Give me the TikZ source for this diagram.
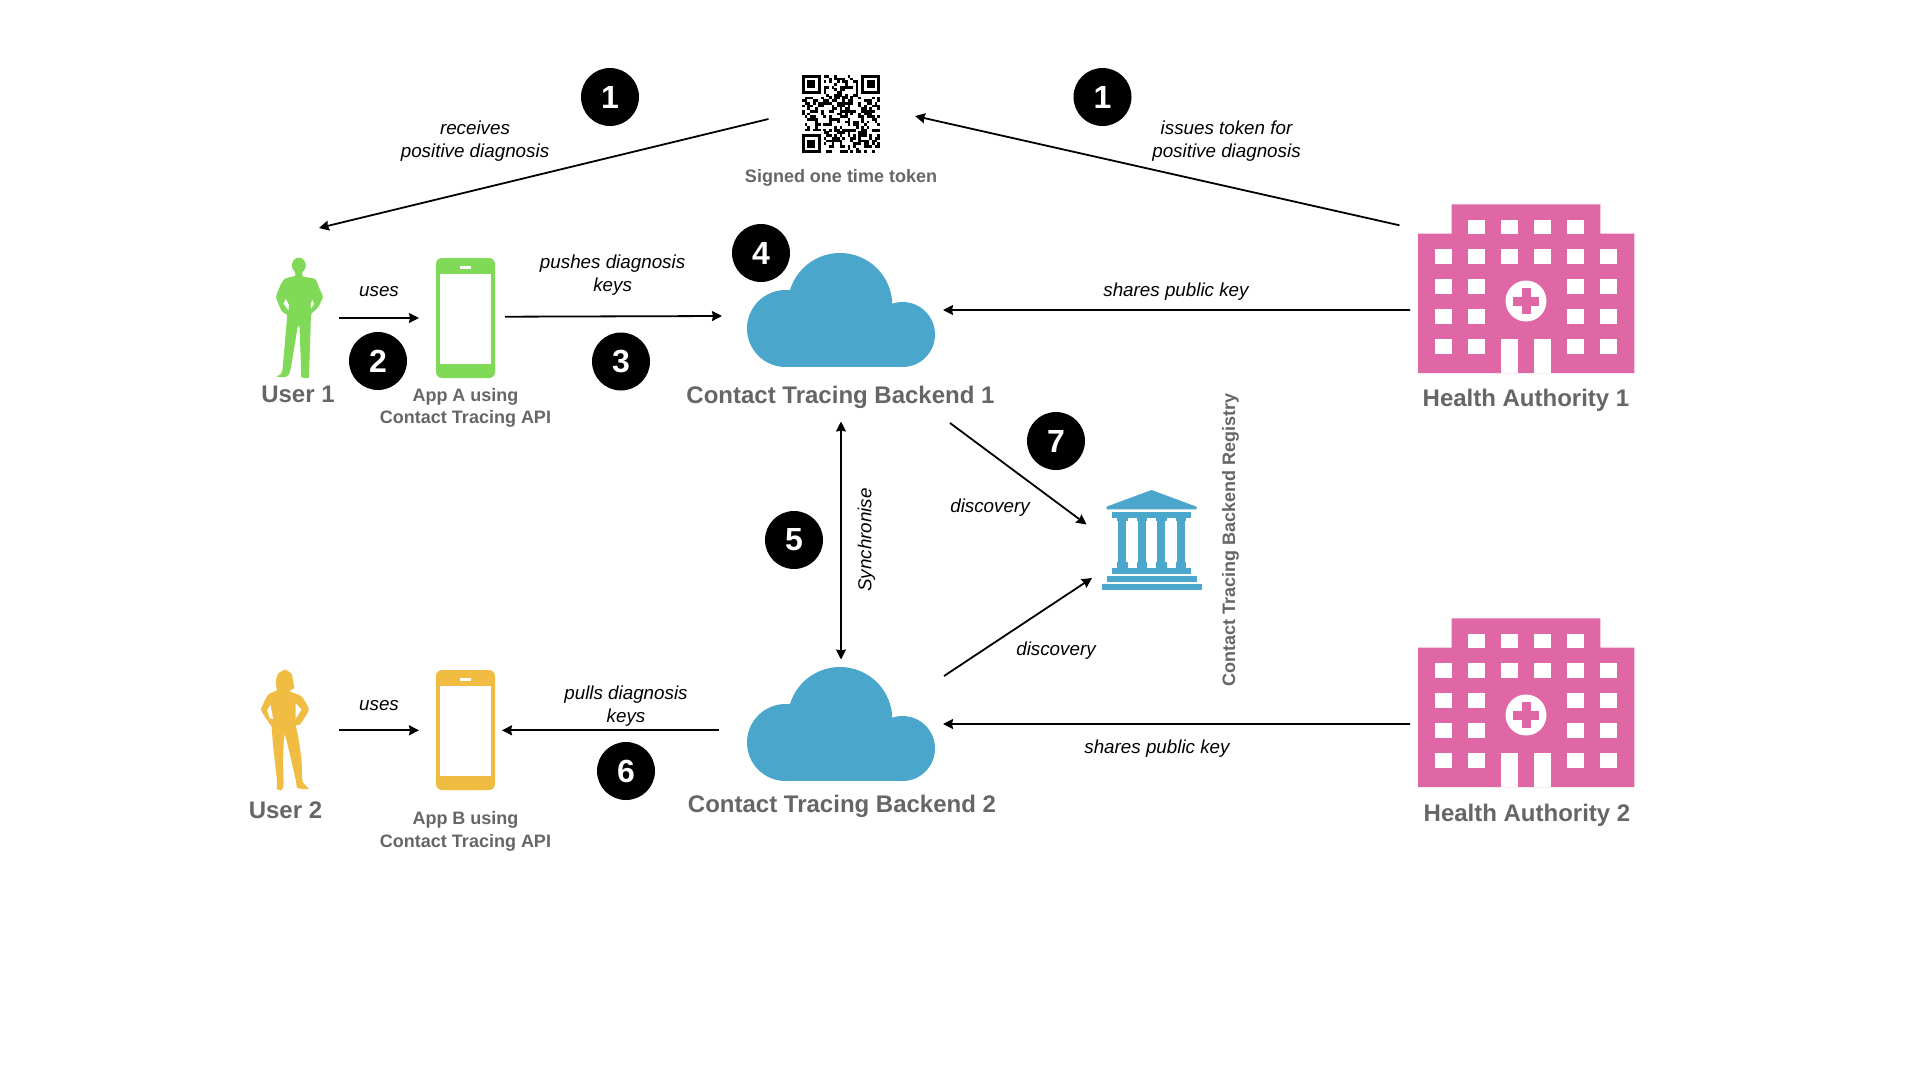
\documentclass[tikz,border=0pt]{standalone}
\usepackage{fontspec}
\setmainfont{Liberation Sans}
\usetikzlibrary{arrows.meta}

\definecolor{textgrey}{HTML}{666666}
\definecolor{usergreen}{HTML}{80D957}
\definecolor{useryellow}{HTML}{F0BD42}
\definecolor{cloudblue}{HTML}{4AA6CB}
\definecolor{hospitalpink}{HTML}{DF67A6}

\tikzset{
    pics/phonepic/.style={code={
        \fill[#1, rounded corners=6] (-29.5,-60) rectangle (29.5,60);
        \fill[white] (-25.5,-44) rectangle (25.2,46);
        \fill[white] (-5.5,-52) rectangle (5.8,-49.3);
    }},
    pics/cloudpic/.style={code={
        \fill[cloudblue] (-55.5,18.5) circle (38.5);
        \fill[cloudblue] (-1,-4.7) circle (52.3);
        \fill[cloudblue] (61.5,24.5) circle (32.5);
        \fill[cloudblue] (-55.5,0) rectangle (61.5,57);
    }},
    pics/hospitalpic/.style={code={
        \fill[hospitalpink] (33.7,0) -- (182.3,0) -- (182.3,29.4) -- (216.3,29.4) -- (216.3,168.7)
            -- (0,168.7) -- (0,29.4) -- (33.7,29.4) -- cycle;
        \foreach \col in {50,83,116,149} \fill[white] (\col,15.4) rectangle ++(16.5,14.7);
        \foreach \col in {17,50,83,116,149,182} \fill[white] (\col,45) rectangle ++(16.5,14.7);
        \foreach \row in {75,105,135}
            \foreach \col in {17,50,149,182} \fill[white] (\col,\row) rectangle ++(16.5,14.7);
        \foreach \col in {83,116} \fill[white] (\col,135) rectangle (\col+16.5,168.7);
        \fill[white] (108,96.7) circle (20.5);
        \fill[hospitalpink] (103.5,83.9) rectangle (112.5,109.5);
        \fill[hospitalpink] (95.2,92.2) rectangle (120.8,101.2);
    }},
    pics/bankpic/.style={code={
        \fill[cloudblue] (0,-50) -- (45,-33.3) -- (45,-30.7) -- (-45,-30.7) -- (-45,-33.3) -- cycle;
        \fill[cloudblue] (-39.3,-28.3) rectangle (39.3,-22.3);
        \foreach \col in {-29.2,-9.8,9.8,29.5} {
            \fill[cloudblue] (\col-3.9,-22.3) rectangle (\col+3.9,27.7);
            \fill[cloudblue] (\col-5.2,-22.3) rectangle (\col+5.2,-19);
            \fill[cloudblue] (\col-5.2,22.4) rectangle (\col+5.2,27.7);
        }
        \fill[cloudblue] (-39.3,27.7) rectangle (39.3,33.7);
        \fill[cloudblue] (-45,35.7) rectangle (45,41.7);
        \fill[cloudblue] (-50,43.7) rectangle (50,50);
    }},
    pics/qrpic/.style={code={
        \pgfmathsetseed{41}
        \foreach \i in {0,...,28}
            \foreach \j in {0,...,28} {
                \pgfmathrandominteger{\cellbit}{0}{1}
                \ifnum\cellbit=1
                    \fill[black] (\i*2.69-0.05,\j*2.69-0.05) rectangle ++(2.79,2.79);
                \fi
            }
        \foreach \fx/\fy in {0/0,22/0,0/22} {
            \fill[white] (\fx*2.69-2.69,\fy*2.69-2.69) rectangle ++(24.2,24.2);
            \fill[black] (\fx*2.69,\fy*2.69) rectangle ++(18.8,18.8);
            \fill[white] (\fx*2.69+2.69,\fy*2.69+2.69) rectangle ++(13.45,13.45);
            \fill[black] (\fx*2.69+5.38,\fy*2.69+5.38) rectangle ++(8.07,8.07);
        }
    }},
    pics/manpic/.style={code={
        \begin{scope}[scale=1/3,shift={(-178,-235)}]
            \fill[usergreen] (176,77) ellipse (21 and 23);
            \fill[usergreen] plot[smooth cycle,tension=0.3] coordinates {
                (186,92) (188,110) (225,118) (235,140) (248,172)
                (232,205) (214,222) (212,240) (210,300) (207,395) (206,414) (184,413) (183,395)
                (178,265) (172,265) (150,395) (136,412) (108,410) (126,395) (140,240) (140,225)
                (125,215) (108,172) (124,130) (136,116) (165,108) (164,92)};
            \fill[white] (137,178) -- (130,192) -- (145,212) -- (146,195) -- cycle;
            \fill[white] (216,180) -- (222,192) -- (212,208) -- (212,195) -- cycle;
        \end{scope}
    }},
    pics/womanpic/.style={code={
        \begin{scope}[scale=1/3,shift={(-135.5,-211)}]
            \fill[useryellow] plot[smooth cycle,tension=0.3] coordinates {
                (135,30) (155,42) (160,65) (163,85) (150,95) (185,110) (207,150) (180,195)
                (168,197) (175,230) (185,300) (188,365) (207,388) (172,385) (168,362) (135,225)
                (130,300) (131,375) (125,392) (110,387) (112,368) (100,260) (95,200) (88,190)
                (64,150) (85,105) (110,92) (108,65) (115,42)};
            \fill[white] (92,135) -- (82,152) -- (90,176) -- (100,178) -- cycle;
            \fill[white] (167,130) -- (185,150) -- (167,178) -- cycle;
        \end{scope}
    }},
}

\begin{document}
\begin{tikzpicture}[x=1pt,y=-1pt]
            \tikzstyle{iconbox} = [rectangle, inner sep=0, outer sep=0]
            \tikzstyle{stepnum} = [circle, fill=black, text=white, inner sep=0, minimum size=58, font=\fontsize{32}{32}\selectfont\bfseries]
            \tikzstyle{title} = [text=textgrey, font=\fontsize{24}{28}\selectfont\bfseries]
            \tikzstyle{caption} = [text=textgrey, align=center, font=\fontsize{18}{22.7}\selectfont\bfseries]
            \tikzstyle{flowtext} = [align=center, font=\fontsize{18.8}{22.7}\selectfont\itshape]
            \tikzstyle{flow} = [line width=1.8, -{Stealth[length=10,width=10,inset=1]}]

            \path[use as bounding box, fill=white] (0,0) rectangle (1920,1080);

            % icons
            \node[iconbox, minimum width=78, minimum height=78] (qrcode) at (841,114) {};
            \node[iconbox, minimum width=47, minimum height=120] (user1) at (299.5,318) {};
            \node[iconbox, minimum width=48, minimum height=120] (user2) at (285,730) {};
            \node[iconbox, minimum width=59, minimum height=120] (phone1) at (465.5,318) {};
            \node[iconbox, minimum width=59, minimum height=120] (phone2) at (465.5,730) {};
            \node[iconbox, minimum width=188, minimum height=114] (cloud1) at (841,310) {};
            \node[iconbox, minimum width=188, minimum height=114] (cloud2) at (841,724) {};
            \node[iconbox, minimum width=216.3, minimum height=168.7] (hospital1) at (1526.15,288.65) {};
            \node[iconbox, minimum width=216.3, minimum height=168.7] (hospital2) at (1526.15,702.65) {};
            \node[iconbox, minimum width=100, minimum height=100] (registry) at (1151.5,540) {};

            \pic at (qrcode.north west) {qrpic};
            \pic at (user1) {manpic};
            \pic at (user2) {womanpic};
            \pic at (phone1) {phonepic=usergreen};
            \pic at (phone2) {phonepic=useryellow};
            \pic at (cloud1) {cloudpic};
            \pic at (cloud2) {cloudpic};
            \pic at (hospital1.north west) {hospitalpic};
            \pic at (hospital2.north west) {hospitalpic};
            \pic at (registry) {bankpic};

            % captions
            \node[caption] (tokentext) at (841,178) {Signed one time token};
            \node[title] (user1text) at (298,394.5) {User 1};
            \node[title] (user2text) at (285.5,810) {User 2};
            \node[caption] (app1text) at (465.5,408) {App A using\\Contact Tracing API};
            \node[caption] (app2text) at (465.5,831.5) {App B using\\Contact Tracing API};
            \node[title] (cloud1text) at (840.5,397) {Contact Tracing Backend 1};
            \node[title] (cloud2text) at (842,806.5) {Contact Tracing Backend 2};
            \node[title] (hospital1text) at (1526,400.5) {Health Authority 1};
            \node[title] (hospital2text) at (1527,815) {Health Authority 2};
            \node[caption, rotate=90] (registrytext) at (1230.5,540) {Contact Tracing Backend Registry};

            % messages
            \draw[flow] ([shift={(-33.5,5)}]qrcode.west) -- ([shift={(-4,-30)}]user1.north east);
            \draw[flow] ([shift={(-18.5,21)}]hospital1.north west) -- ([shift={(35,2)}]qrcode.east);
            \draw[flow] ([shift={(16,0)}]user1.east) -- ([shift={(-17,0)}]phone1.west);
            \draw[flow] ([shift={(10,-1.3)}]phone1.east) -- ([shift={(-25,6)}]cloud1.west);
            \draw[flow] ([shift={(-8,21.4)}]hospital1.west) -- ([shift={(8,0)}]cloud1.east);
            \draw[flow] ([shift={(-8,21.4)}]hospital2.west) -- ([shift={(8,0)}]cloud2.east);
            \draw[flow, {Stealth[length=10,width=10,inset=1]}-{Stealth[length=10,width=10,inset=1]}] ([shift={(0,54.5)}]cloud1.south) -- ([shift={(0,-7.5)}]cloud2.north);
            \draw[flow] ([shift={(15,56)}]cloud1.south east) -- ([shift={(-15,-15.5)}]registry.west);
            \draw[flow] ([shift={(9,9)}]cloud2.north east) -- ([shift={(-9.5,38)}]registry.west);
            \draw[flow] ([shift={(-28,6.3)}]cloud2.west) -- ([shift={(7,0.3)}]phone2.east);
            \draw[flow] ([shift={(30,0.3)}]user2.east) -- ([shift={(-17,0.3)}]phone2.west);

            % message labels
            \node[flowtext] (receivestext) at (475,141) {receives\\positive diagnosis};
            \node[flowtext] (issuestext) at (1226.5,141) {issues token for\\positive diagnosis};
            \node[flowtext] (uses1text) at (379,292) {uses};
            \node[flowtext] (uses2text) at (379,705.5) {uses};
            \node[flowtext] (pushestext) at (612.6,275) {pushes diagnosis\\keys};
            \node[flowtext] (pullstext) at (626,706) {pulls diagnosis\\keys};
            \node[flowtext] (shares1text) at (1176,292) {shares public key};
            \node[flowtext] (shares2text) at (1157,749) {shares public key};
            \node[flowtext, rotate=90] (synctext) at (866.5,540) {Synchronise};
            \node[flowtext] (discovery1text) at (990,508) {discovery};
            \node[flowtext] (discovery2text) at (1056,651) {discovery};

            % step numbers
            \node[stepnum] (stepa) at (610,97) {1};
            \node[stepnum] (stepb) at (1102.5,97) {1};
            \node[stepnum] (stepc) at (378,361) {2};
            \node[stepnum] (stepd) at (621,361.5) {3};
            \node[stepnum] (stepe) at (761,253) {4};
            \node[stepnum] (stepf) at (794,540) {5};
            \node[stepnum] (stepg) at (626,771) {6};
            \node[stepnum] (steph) at (1056,441) {7};
        \end{tikzpicture}
\end{document}
